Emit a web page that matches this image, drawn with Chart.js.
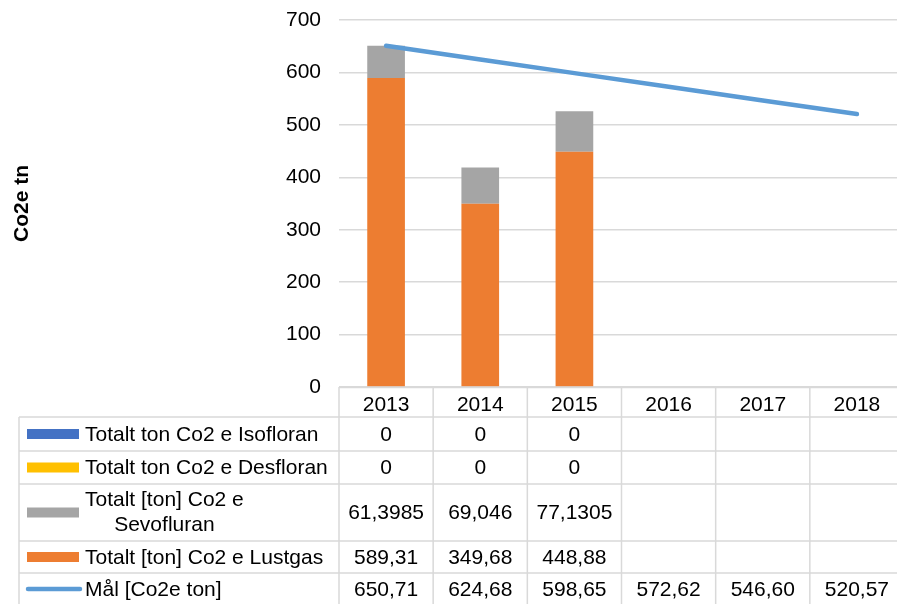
<!DOCTYPE html>
<html>
<head>
<meta charset="utf-8">
<script src="https://cdn.jsdelivr.net/npm/chart.js@4.4.1/dist/chart.umd.min.js"></script>
<style>
  html, body { margin:0; padding:0; background:#fff; overflow:hidden; }
  #wrap { width:897px; height:604px; overflow:hidden; }
</style>
</head>
<body>
<div id="wrap"><canvas id="chart" width="905" height="604"></canvas></div>
<script>
const years = ["2013", "2014", "2015", "2016", "2017", "2018"];
const isofloran = [0, 0, 0, null, null, null];
const desfloran = [0, 0, 0, null, null, null];
const sevofluran = [61.3985, 69.046, 77.1305, null, null, null];
const lustgas = [589.31, 349.68, 448.88, null, null, null];
const mal = [650.71, 624.68, 598.65, 572.62, 546.60, 520.57];
const yTicks = [0, 100, 200, 300, 400, 500, 600, 700];

const FONT = "'Liberation Sans', Arial, sans-serif";
const FSIZE = 21;

// rows of the data table, top to bottom
const tableRows = [
    {label:["Totalt ton Co2 e Isofloran"], data:isofloran, color:"#4472C4", kind:"box", h:34},
    {label:["Totalt ton Co2 e Desfloran"], data:desfloran, color:"#FFC000", kind:"box", h:33},
    {label:["Totalt [ton] Co2 e", "Sevofluran"], data:sevofluran, color:"#A5A5A5", kind:"box", h:57},
    {label:["Totalt [ton] Co2 e Lustgas"], data:lustgas, color:"#ED7D31", kind:"box", h:32},
    {label:["Mål [Co2e ton]"], data:mal, color:"#5B9BD5", kind:"line", h:32, fixed:2}
];

function fmt(v, fixed) {
    if(v === null || v === undefined) return "";
    let s = fixed ? v.toFixed(fixed) : String(v);
    return s.replace(".", ",");
}

const tablePlugin = {
    id:"dataTable",
    afterDraw(chart) {
        const ctx = chart.ctx;
        const x = chart.scales.x;
        const top = chart.chartArea.bottom;
        const colW = (x.right - x.left) / years.length;
        const tableLeft = 19;
        const headerH = 30;
        ctx.save();
        ctx.strokeStyle = "#D9D9D9";
        ctx.lineWidth = 1.5;

        // header row verticals + top line
        ctx.beginPath();
        ctx.moveTo(x.left, top + 0.5);
        ctx.lineTo(x.right, top + 0.5);
        for(let k=0; k<=years.length; k++) {
            let px = x.left + k*colW;
            ctx.moveTo(px, top);
            ctx.lineTo(px, top + headerH);
        }
        ctx.stroke();

        let y = top + headerH;
        ctx.font = FSIZE + "px " + FONT;
        ctx.fillStyle = "#000";
        ctx.textBaseline = "middle";
        for(let r=0; r<tableRows.length; r++) {
            const row = tableRows[r];
            ctx.beginPath();
            ctx.moveTo(tableLeft, y);
            ctx.lineTo(x.right, y);
            ctx.moveTo(tableLeft, y);
            ctx.lineTo(tableLeft, y + row.h);
            for(let k=0; k<=years.length; k++) {
                let px = x.left + k*colW;
                ctx.moveTo(px, y);
                ctx.lineTo(px, y + row.h);
            }
            ctx.stroke();

            const cy = y + row.h/2;
            // legend key
            if(row.kind === "box") {
                ctx.fillStyle = row.color;
                ctx.fillRect(27, cy - 5, 52, 10);
            } else {
                ctx.save();
                ctx.strokeStyle = row.color;
                ctx.lineWidth = 4.5;
                ctx.lineCap = "round";
                ctx.beginPath();
                ctx.moveTo(28, cy);
                ctx.lineTo(80, cy);
                ctx.stroke();
                ctx.restore();
            }
            // label
            ctx.fillStyle = "#000";
            if(row.label.length === 1) {
                ctx.textAlign = "left";
                ctx.fillText(row.label[0], 85, cy + 1);
            } else {
                let w0 = ctx.measureText(row.label[0]).width;
                let mid = 85 + w0/2;
                ctx.textAlign = "center";
                ctx.fillText(row.label[0], mid, cy - 12);
                ctx.fillText(row.label[1], mid, cy + 13);
            }
            // values
            ctx.textAlign = "center";
            for(let i=0; i<years.length; i++) {
                ctx.fillText(fmt(row.data[i], row.fixed), x.getPixelForValue(i), cy + 1);
            }
            y += row.h;
        }
        ctx.restore();
    }
};

new Chart(document.getElementById("chart"), {
    type:"bar",
    plugins:[tablePlugin],
    data:{
        labels:years,
        datasets:[
            {
                type:"line",
                label:"Mål [Co2e ton]",
                data:mal,
                stack:"line",
                borderColor:"#5B9BD5",
                borderWidth:4.5,
                borderCapStyle:"round",
                pointRadius:0,
                tension:0
            },
            {label:"Totalt [ton] Co2 e Lustgas", data:lustgas, stack:"bars", backgroundColor:"#ED7D31"},
            {label:"Totalt [ton] Co2 e Sevofluran", data:sevofluran, stack:"bars", backgroundColor:"#A5A5A5"},
            {label:"Totalt ton Co2 e Desfloran", data:desfloran, stack:"bars", backgroundColor:"#FFC000"},
            {label:"Totalt ton Co2 e Isofloran", data:isofloran, stack:"bars", backgroundColor:"#4472C4"}
        ]
    },
    options:{
        responsive:false,
        animation:false,
        categoryPercentage:1,
        barPercentage:0.4,
        layout:{padding:{top:20, right:1, left:0, bottom:0}},
        plugins:{
            legend:{display:false},
            tooltip:{enabled:false}
        },
        scales:{
            x:{
                stacked:true,
                grid:{display:false},
                border:{display:false},
                ticks:{font:{family:FONT, size:FSIZE}, color:"#000", padding:-2},
                afterFit(scale) { scale.height = 217; }
            },
            y:{
                stacked:true,
                min:0,
                max:700,
                afterBuildTicks(scale) { scale.ticks = yTicks.map(v => ({value:v})); },
                grid:{color:"#D9D9D9", lineWidth:1.5, drawTicks:false},
                border:{display:false},
                ticks:{font:{family:FONT, size:FSIZE}, color:"#000", padding:18},
                title:{display:true, text:"Co2e tn", color:"#000", font:{family:FONT, size:FSIZE, weight:"bold"}, padding:{top:10}},
                afterFit(scale) {
                    scale.width = 339;
                    scale.paddingTop = 0;
                    scale.paddingBottom = 0;
                }
            }
        }
    }
});
</script>
</body>
</html>
